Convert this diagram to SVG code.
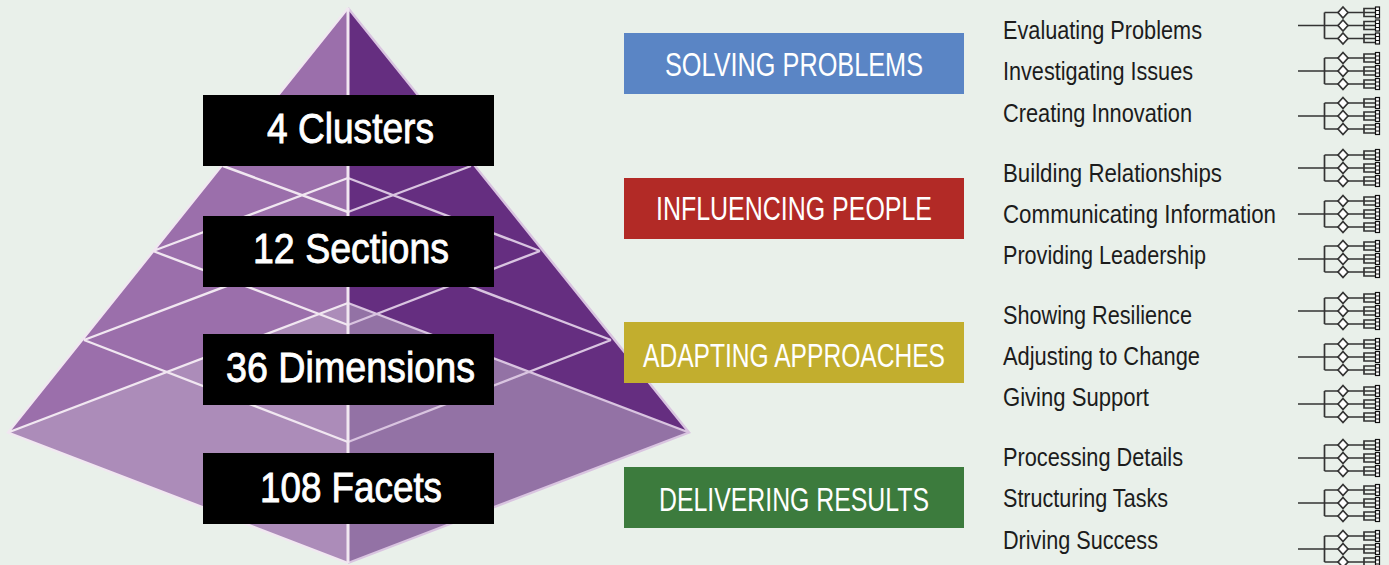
<svg xmlns="http://www.w3.org/2000/svg" width="1389" height="565" viewBox="0 0 1389 565">
<style>
.lv{fill:#000}
.lvt{font:43px "Liberation Sans Narrow","Liberation Sans",sans-serif;fill:#fff;stroke:#fff;stroke-width:.9}
.clt{font:34px "Liberation Sans Narrow","Liberation Sans",sans-serif;fill:#fff}
.sec{font:25px "Liberation Sans Narrow","Liberation Sans",sans-serif;fill:#1c1c1c}
.lg{stroke:#f1e7f1;stroke-width:2.400;fill:none;stroke-miterlimit:20}
.lr{stroke:#d9c4e0;stroke-width:2.400;fill:none;stroke-miterlimit:20}
.w{stroke:#333;stroke-width:1.700;fill:none}
.d{fill:#fff;stroke:#333;stroke-width:1.700}
</style>
<defs>
<g id="leaf">
<path class="w" d="M1348 0H1364M1376 -4H1364V4H1376M1364 0H1376"/>
<rect x="1375.500" y="-5.500" width="4" height="11" fill="#fff" stroke="#111" stroke-width="1.200"/>
<path d="M1375.500 -2H1379.500M1375.500 2H1379.500" stroke="#111" stroke-width="1.200"/>
<path class="d" d="M1343 -5.500L1348 0L1343 5.500L1338 0Z"/>
</g>
<g id="tree">
<path class="w" d="M1298 0H1325M1324.500 -13V13M1324.500 -13H1338M1324.500 0H1338M1324.500 13H1338"/>
<use href="#leaf" y="-13"/><use href="#leaf"/><use href="#leaf" y="13"/>
</g>
</defs>
<rect width="1389" height="565" fill="#e9f0ea"/>
<g id="pyramid">
<path d="M348 8L8 432.500L348 563Z" fill="#9b6fab"/>
<path d="M348 8L689 432.500L348 563Z" fill="#652e80"/>
<path d="M8 432.500L348 303V563Z" fill="#ac8cb9"/>
<path d="M689 432.500L348 303V563Z" fill="#9372a5"/>
<path class="lg" d="M348 8L8 432.500L348 563M8 432.500L348 303M84 340L348 442M84 340L348 240M153 251L348 325M153 251L348 178M223 166L348 212M223 166L348 118"/>
<path class="lr" d="M348 8L689 432.500L348 563M689 432.500L348 303M611 340L348 442M611 340L348 240M540 251L348 325M540 251L348 178M471 166L348 212M471 166L348 118"/>
<path d="M348 8V563" stroke="#f1e7f1" stroke-width="3"/>
</g>
<g id="level-clusters"><rect class="lv" x="203" y="95" width="291" height="71"/><text class="lvt" x="267" y="143" textLength="167" lengthAdjust="spacingAndGlyphs">4 Clusters</text></g>
<g id="level-sections"><rect class="lv" x="203" y="216" width="291" height="71"/><text class="lvt" x="253" y="263" textLength="196" lengthAdjust="spacingAndGlyphs">12 Sections</text></g>
<g id="level-dimensions"><rect class="lv" x="203" y="334" width="291" height="71"/><text class="lvt" x="226" y="382" textLength="249" lengthAdjust="spacingAndGlyphs">36 Dimensions</text></g>
<g id="level-facets"><rect class="lv" x="203" y="453" width="291" height="71"/><text class="lvt" x="260" y="502" textLength="182" lengthAdjust="spacingAndGlyphs">108 Facets</text></g>
<g id="cluster-solving"><rect x="624" y="33" width="340" height="61" fill="#5a85c5"/><text class="clt" x="665" y="76" textLength="258" lengthAdjust="spacingAndGlyphs">SOLVING PROBLEMS</text></g>
<g id="cluster-influencing"><rect x="624" y="178" width="340" height="61" fill="#b22a26"/><text class="clt" x="656" y="220" textLength="276" lengthAdjust="spacingAndGlyphs">INFLUENCING PEOPLE</text></g>
<g id="cluster-adapting"><rect x="624" y="322" width="340" height="61" fill="#c2ae2e"/><text class="clt" x="643" y="367" textLength="302" lengthAdjust="spacingAndGlyphs">ADAPTING APPROACHES</text></g>
<g id="cluster-delivering"><rect x="624" y="467" width="340" height="61" fill="#3c7b3d"/><text class="clt" x="659" y="511" textLength="270" lengthAdjust="spacingAndGlyphs">DELIVERING RESULTS</text></g>
<g id="section-1"><text class="sec" x="1003" y="39" textLength="199" lengthAdjust="spacingAndGlyphs">Evaluating Problems</text></g>
<g id="section-2"><text class="sec" x="1003" y="80" textLength="190" lengthAdjust="spacingAndGlyphs">Investigating Issues</text></g>
<g id="section-3"><text class="sec" x="1003" y="122" textLength="189" lengthAdjust="spacingAndGlyphs">Creating Innovation</text></g>
<g id="section-4"><text class="sec" x="1003" y="182" textLength="219" lengthAdjust="spacingAndGlyphs">Building Relationships</text></g>
<g id="section-5"><text class="sec" x="1003" y="223" textLength="273" lengthAdjust="spacingAndGlyphs">Communicating Information</text></g>
<g id="section-6"><text class="sec" x="1003" y="264" textLength="203" lengthAdjust="spacingAndGlyphs">Providing Leadership</text></g>
<g id="section-7"><text class="sec" x="1003" y="324" textLength="189" lengthAdjust="spacingAndGlyphs">Showing Resilience</text></g>
<g id="section-8"><text class="sec" x="1003" y="365" textLength="197" lengthAdjust="spacingAndGlyphs">Adjusting to Change</text></g>
<g id="section-9"><text class="sec" x="1003" y="406" textLength="146" lengthAdjust="spacingAndGlyphs">Giving Support</text></g>
<g id="section-10"><text class="sec" x="1003" y="466" textLength="180" lengthAdjust="spacingAndGlyphs">Processing Details</text></g>
<g id="section-11"><text class="sec" x="1003" y="507" textLength="165" lengthAdjust="spacingAndGlyphs">Structuring Tasks</text></g>
<g id="section-12"><text class="sec" x="1003" y="549" textLength="155" lengthAdjust="spacingAndGlyphs">Driving Success</text></g>
<g id="connectors">
<use href="#tree" y="25.500"/><use href="#tree" y="71"/><use href="#tree" y="116"/>
<use href="#tree" y="168"/><use href="#tree" y="214"/><use href="#tree" y="259"/>
<use href="#tree" y="311"/><use href="#tree" y="357"/><use href="#tree" y="404"/>
<use href="#tree" y="458"/><use href="#tree" y="503"/><use href="#tree" y="549"/>
</g>
</svg>
